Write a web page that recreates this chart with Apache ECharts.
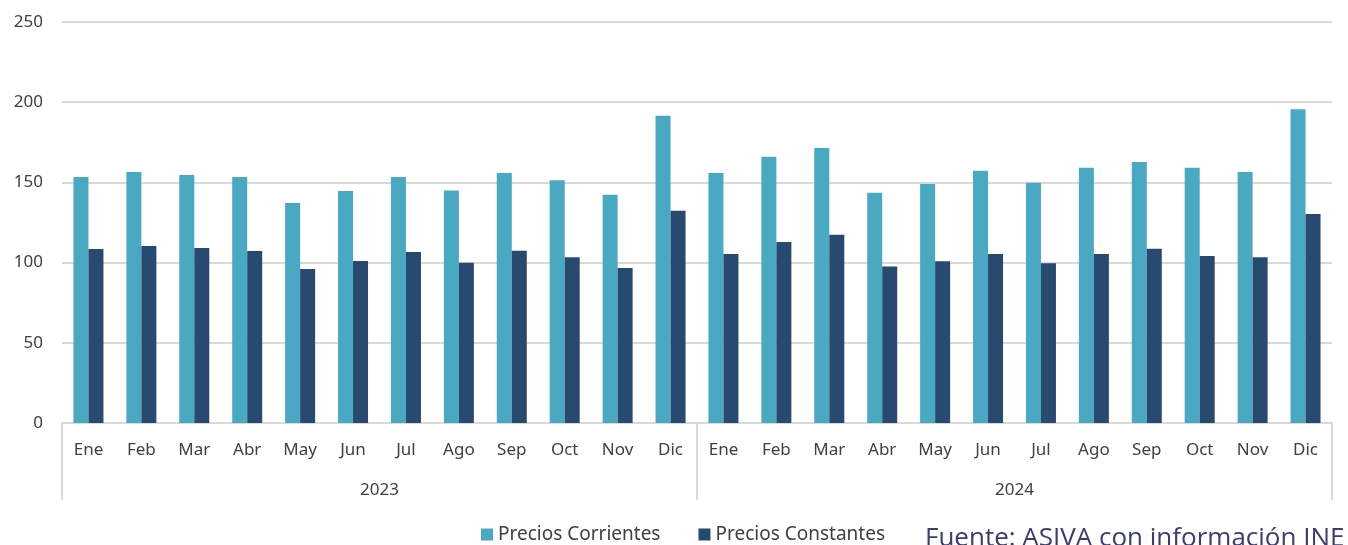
<!DOCTYPE html>
<html>
<head>
<meta charset="utf-8">
<script src="https://cdn.jsdelivr.net/npm/echarts@6/dist/echarts.min.js"></script>
<style>
  html, body { margin: 0; padding: 0; background: #fff; }
  #chart { width: 1348px; height: 545px; }
</style>
</head>
<body>
<div id="chart"></div>
<script>
// datos (indice, 2023-2024)
const meses = ['Ene', 'Feb', 'Mar', 'Abr', 'May', 'Jun', 'Jul', 'Ago', 'Sep', 'Oct', 'Nov', 'Dic',
               'Ene', 'Feb', 'Mar', 'Abr', 'May', 'Jun', 'Jul', 'Ago', 'Sep', 'Oct', 'Nov', 'Dic'];
const anios = ['2023', '2024'];
const preciosCorrientes = [153.4, 156.5, 154.6, 153.4, 137.2, 144.6, 153.4, 145, 155.9, 151.3, 142.3, 191.6,
                           155.9, 166, 171.4, 143.6, 149, 157.3, 149.8, 159.2, 162.7, 159.2, 156.5, 195.6];
const preciosConstantes = [108.5, 110.3, 109.1, 107.2, 96, 101, 106.6, 99.9, 107.4, 103.3, 96.6, 132.4,
                           105.4, 112.8, 117.4, 97.5, 100.8, 105.4, 99.6, 105.4, 108.7, 104.1, 103.3, 130.3];
const ticksY = [0, 50, 100, 150, 200, 250];

const fuente = 'Noto Sans';
const gris = '#404040';

const chart = echarts.init(document.getElementById('chart'));
chart.setOption({
    animation: false,
    textStyle: { fontFamily: fuente },
    grid: { left: 62, right: 16, top: 22, bottom: 122 },
    legend: {
        top: 520,
        left: 476,
        itemWidth: 12,
        itemHeight: 12,
        itemGap: 38,
        icon: 'rect',
        textStyle: { fontSize: 19, color: gris, fontFamily: fuente },
        data: ['Precios Corrientes', 'Precios Constantes']
    },
    xAxis: [{
        type: 'category',
        data: meses,
        axisLine: { lineStyle: { color: '#d9d9d9', width: 2 } },
        axisTick: { show: false },
        axisLabel: { color: gris, fontSize: 17, margin: 19, interval: 0 }
    }, {
        type: 'category',
        data: anios,
        position: 'bottom',
        axisLine: { show: false },
        axisTick: { show: true, length: 77, lineStyle: { color: '#d9d9d9', width: 2 } },
        axisLabel: { color: gris, fontSize: 17, margin: 59 }
    }],
    yAxis: {
        type: 'value',
        min: ticksY[0],
        max: ticksY[ticksY.length - 1],
        interval: 50,
        axisLine: { show: false },
        axisTick: { show: false },
        axisLabel: { color: gris, fontSize: 17, margin: 19 },
        splitLine: { lineStyle: { color: '#d9d9d9', width: 2 } }
    },
    series: [{
        name: 'Precios Corrientes',
        type: 'bar',
        data: preciosCorrientes,
        barWidth: 15,
        barGap: '0%',
        itemStyle: { color: '#49A9C3' }
    }, {
        name: 'Precios Constantes',
        type: 'bar',
        data: preciosConstantes,
        barWidth: 15,
        itemStyle: { color: '#284A70' }
    }],
    graphic: [{
        type: 'text',
        left: 925,
        top: 526,
        style: {
            text: 'Fuente: ASIVA con información INE',
            fontFamily: 'Open Sans',
            fontSize: 26,
            fill: '#3a3d72'
        }
    }]
});
</script>
</body>
</html>
